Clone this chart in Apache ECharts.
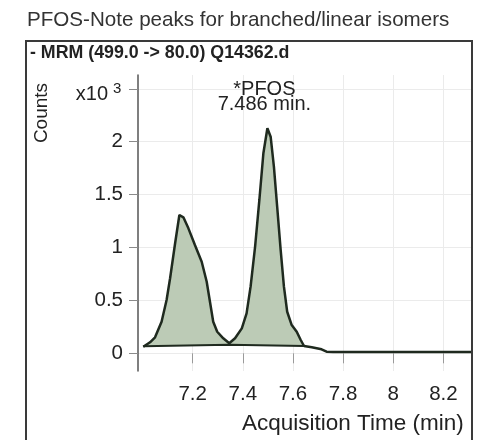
<!DOCTYPE html>
<html>
<head>
<meta charset="utf-8">
<script src="https://cdn.jsdelivr.net/npm/echarts@6/dist/echarts.min.js"></script>
<style>
  html, body { margin: 0; padding: 0; background: #fff; }
  #chart { width: 478px; height: 440px; }
</style>
</head>
<body>
<div id="chart"></div>
<script>
// ---- Data (time in min, counts in x10^3) ----
const peakTimes  = [7.003, 7.030, 7.050, 7.076, 7.096, 7.110, 7.130, 7.147, 7.163, 7.183, 7.209, 7.236, 7.256, 7.269, 7.282, 7.298, 7.322, 7.346, 7.369, 7.396, 7.415, 7.431, 7.449, 7.466, 7.482, 7.498, 7.511, 7.524, 7.537, 7.551, 7.564, 7.577, 7.595, 7.615, 7.631, 7.644];
const peakCounts = [0.062, 0.104, 0.151, 0.299, 0.504, 0.709, 1.040, 1.307, 1.285, 1.181, 1.024, 0.866, 0.677, 0.488, 0.299, 0.204, 0.142, 0.095, 0.142, 0.236, 0.378, 0.630, 1.008, 1.449, 1.890, 2.127, 2.047, 1.764, 1.386, 0.976, 0.630, 0.393, 0.267, 0.204, 0.126, 0.069];
const tailTimes  = [7.644, 7.675, 7.714, 7.734, 7.760, 8.314];
const tailCounts = [0.069, 0.057, 0.038, 0.015, 0.012, 0.012];
const baseTimes  = [7.003, 7.346, 7.644];
const baseCounts = [0.066, 0.080, 0.070];
const peakLabelTime = 7.486;
const peakLabelCount = 2.127;
const xTicks = [7.2, 7.4, 7.6, 7.8, 8, 8.2];
const yTicks = [0, 0.5, 1, 1.5, 2, 2.5];
const yLabels = [0, 0.5, 1, 1.5, 2];
const titleText = 'PFOS-Note peaks for branched/linear isomers';
const headerText = '- MRM (499.0 -> 80.0) Q14362.d';
const peakName = '*PFOS';
const peakRT = '7.486 min.';

const pairs = (xs, ys) => xs.map((x, i) => [x, ys[i]]);
const FONT = '"Liberation Sans", Arial, Helvetica, sans-serif';
const LINE = '#1f2a1f';

const chart = echarts.init(document.getElementById('chart'), null, { renderer: 'canvas' });
chart.setOption({
  animation: false,
  backgroundColor: '#ffffff',
  textStyle: { fontFamily: FONT },
  grid: { left: 138, right: 6, top: 75, bottom: 69, containLabel: false, outerBoundsMode: 'none' },
  xAxis: {
    type: 'value', min: 6.982, max: 8.314,
    axisLine: { show: false },
    axisTick: { show: true, customValues: xTicks, length: 10, lineStyle: { color: '#9a9a9a', width: 1 } },
    axisLabel: { customValues: xTicks, fontSize: 20.5, color: '#222', margin: 13, fontFamily: FONT },
    splitLine: { show: true, lineStyle: { color: '#ebebeb', width: 1 } },
    name: 'Acquisition Time (min)',
    nameLocation: 'end',
    nameGap: -230,
    nameTextStyle: { fontSize: 22.5, color: '#222', align: 'left', verticalAlign: 'top', padding: [59, 0, 0, 0], fontFamily: FONT }
  },
  yAxis: {
    type: 'value', min: -0.167, max: 2.63,
    axisLine: { show: true, lineStyle: { color: '#555', width: 1.5 } },
    axisTick: { show: true, customValues: yTicks, length: 9, lineStyle: { color: '#8a8a8a', width: 1 } },
    axisLabel: { customValues: yLabels, fontSize: 20.5, color: '#222', margin: 15, fontFamily: FONT },
    splitLine: { show: true, lineStyle: { color: '#ebebeb', width: 1 } }
  },
  series: [
    {
      name: 'PFOS peaks', type: 'line', data: pairs(peakTimes, peakCounts),
      symbol: 'none', smooth: false,
      lineStyle: { color: LINE, width: 2.5 },
      areaStyle: { color: '#bccbb6', opacity: 1, origin: 0.07 },
      z: 3,
      markPoint: {
        symbol: 'circle', symbolSize: 1,
        itemStyle: { color: 'rgba(0,0,0,0)' },
        data: [{
          coord: [peakLabelTime, peakLabelCount],
          label: {
            show: true, position: 'top', distance: 15,
            formatter: peakName + '\n' + peakRT,
            fontSize: 20, lineHeight: 15.5, color: '#222', align: 'center', fontFamily: FONT
          }
        }]
      }
    },
    {
      name: 'tail', type: 'line', data: pairs(tailTimes, tailCounts),
      symbol: 'none', lineStyle: { color: LINE, width: 2.5 }, z: 3
    },
    {
      name: 'baseline', type: 'line', data: pairs(baseTimes, baseCounts),
      symbol: 'none', lineStyle: { color: LINE, width: 2 }, z: 4
    }
  ],
  graphic: [
    { type: 'rect', shape: { x: 26, y: 41, width: 446, height: 430 }, style: { fill: 'none', stroke: '#3a3a3a', lineWidth: 2 }, z: 10, silent: true },
    { type: 'text', x: 27, y: 20, style: { text: titleText, font: '20.6px ' + FONT, fill: '#333', textAlign: 'left', textVerticalAlign: 'middle' } },
    { type: 'text', x: 30, y: 53, style: { text: headerText, font: 'bold 17.8px ' + FONT, fill: '#222', textAlign: 'left', textVerticalAlign: 'middle' } },
    { type: 'text', x: 42, y: 113, rotation: Math.PI / 2, style: { text: 'Counts', font: '19px ' + FONT, fill: '#222', textAlign: 'center', textVerticalAlign: 'middle' } },
    { type: 'text', x: 108, y: 94.5, style: { text: 'x10', font: '20px ' + FONT, fill: '#222', textAlign: 'right', textVerticalAlign: 'middle' } },
    { type: 'text', x: 113, y: 89, style: { text: '3', font: '15px ' + FONT, fill: '#222', textAlign: 'left', textVerticalAlign: 'middle' } }
  ]
});
</script>
</body>
</html>
